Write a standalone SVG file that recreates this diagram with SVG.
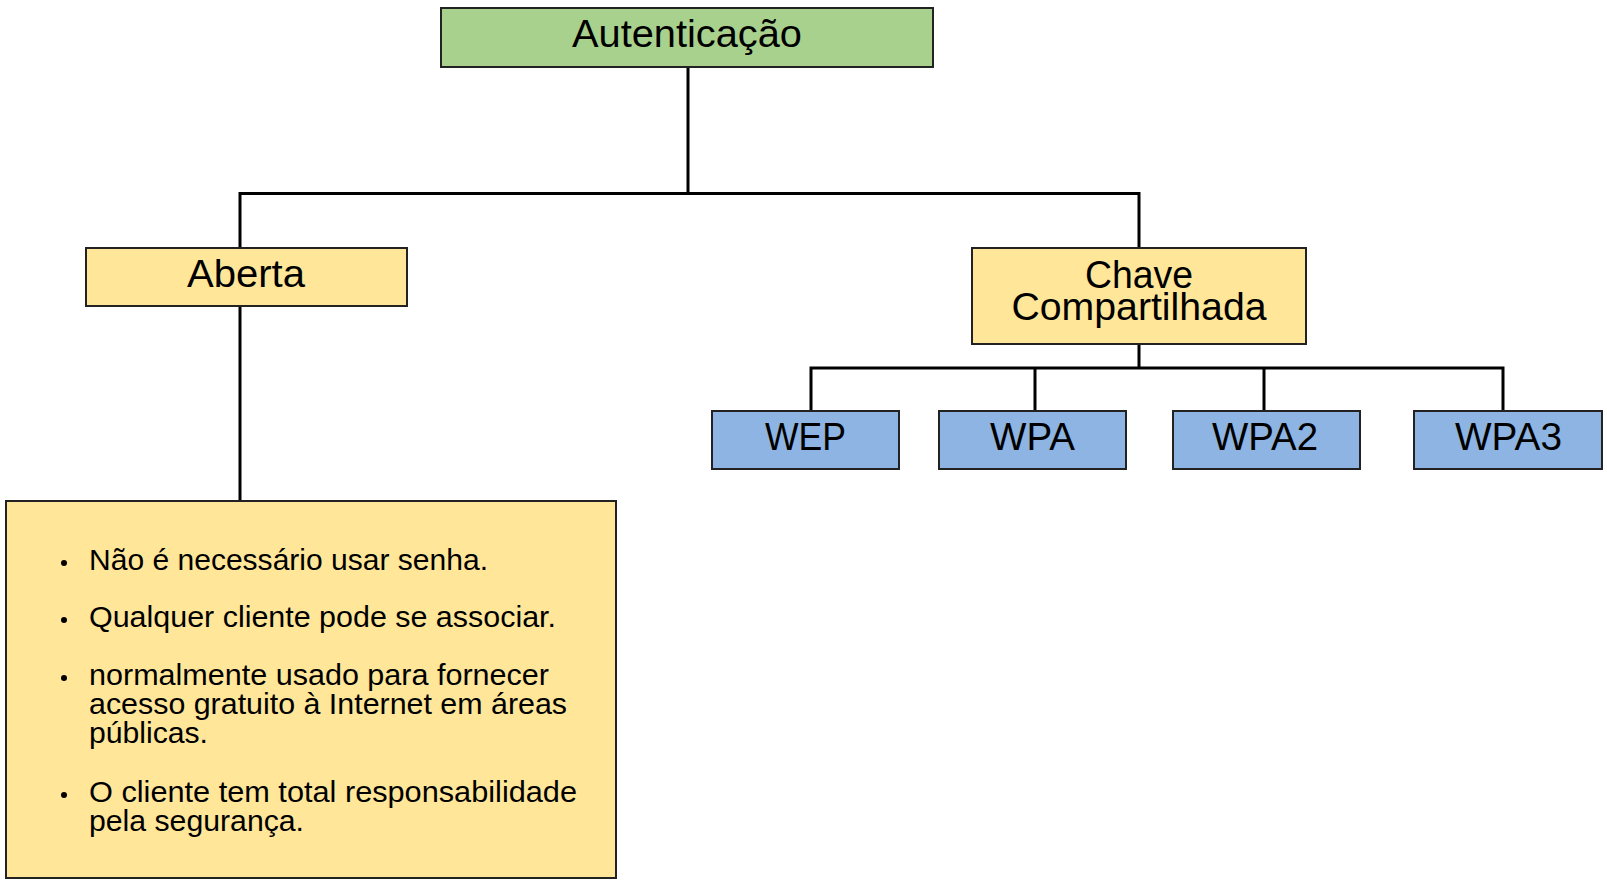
<svg xmlns="http://www.w3.org/2000/svg" width="1607" height="885" viewBox="0 0 1607 885">
<style>
.box{stroke:#222;stroke-width:2}
.g{fill:#A9D18E}.y{fill:#FFE699}.b{fill:#8DB4E2}
.t{font-family:"Liberation Sans",Arial,sans-serif;font-size:38px;fill:#000;text-anchor:middle}
.s{font-family:"Liberation Sans",Arial,sans-serif;font-size:29px;fill:#000}
.c{fill:none;stroke:#000;stroke-width:3}
</style>
<rect width="1607" height="885" fill="#fff"/>
<g id="connectors">
<path class="c" d="M688 67V193.5M240 193.5H1139M240 192V248M1139 192V248"/>
<path class="c" d="M240 306V501"/>
<path class="c" d="M1139 344V368M811 368H1503M811 366.5V411M1035 366.5V411M1264 366.5V411M1503 366.5V411"/>
</g>
<g id="autenticacao"><rect class="box g" x="441" y="8" width="492" height="59"/><text class="t" x="687" y="47" textLength="230" lengthAdjust="spacingAndGlyphs">Autenticação</text></g>
<g id="aberta"><rect class="box y" x="86" y="248" width="321" height="58"/><text class="t" x="246" y="287" textLength="118" lengthAdjust="spacingAndGlyphs">Aberta</text></g>
<g id="chave"><rect class="box y" x="972" y="248" width="334" height="96"/><text class="t" x="1139" y="288" textLength="108" lengthAdjust="spacingAndGlyphs">Chave</text><text class="t" x="1139" y="320" textLength="255" lengthAdjust="spacingAndGlyphs">Compartilhada</text></g>
<g id="wep"><rect class="box b" x="712" y="411" width="187" height="58"/><text class="t" x="805.5" y="450" textLength="81" lengthAdjust="spacingAndGlyphs">WEP</text></g>
<g id="wpa"><rect class="box b" x="939" y="411" width="187" height="58"/><text class="t" x="1032.5" y="450" textLength="85" lengthAdjust="spacingAndGlyphs">WPA</text></g>
<g id="wpa2"><rect class="box b" x="1173" y="411" width="187" height="58"/><text class="t" x="1265" y="450" textLength="106" lengthAdjust="spacingAndGlyphs">WPA2</text></g>
<g id="wpa3"><rect class="box b" x="1414" y="411" width="188" height="58"/><text class="t" x="1508.5" y="450" textLength="107" lengthAdjust="spacingAndGlyphs">WPA3</text></g>
<g id="details">
<rect class="box y" x="6" y="501" width="610" height="377"/>
<g fill="#000"><circle cx="64" cy="563" r="3"/><circle cx="64" cy="620" r="3"/><circle cx="64" cy="678" r="3"/><circle cx="64" cy="795" r="3"/></g>
<text class="s" x="89" y="570" textLength="399" lengthAdjust="spacingAndGlyphs">Não é necessário usar senha.</text>
<text class="s" x="89" y="627" textLength="467" lengthAdjust="spacingAndGlyphs">Qualquer cliente pode se associar.</text>
<text class="s" x="89" y="685" textLength="460" lengthAdjust="spacingAndGlyphs">normalmente usado para fornecer</text>
<text class="s" x="89" y="714" textLength="478" lengthAdjust="spacingAndGlyphs">acesso gratuito à Internet em áreas</text>
<text class="s" x="89" y="743" textLength="119" lengthAdjust="spacingAndGlyphs">públicas.</text>
<text class="s" x="89" y="802" textLength="488" lengthAdjust="spacingAndGlyphs">O cliente tem total responsabilidade</text>
<text class="s" x="89" y="831" textLength="215" lengthAdjust="spacingAndGlyphs">pela segurança.</text>
</g>
</svg>
